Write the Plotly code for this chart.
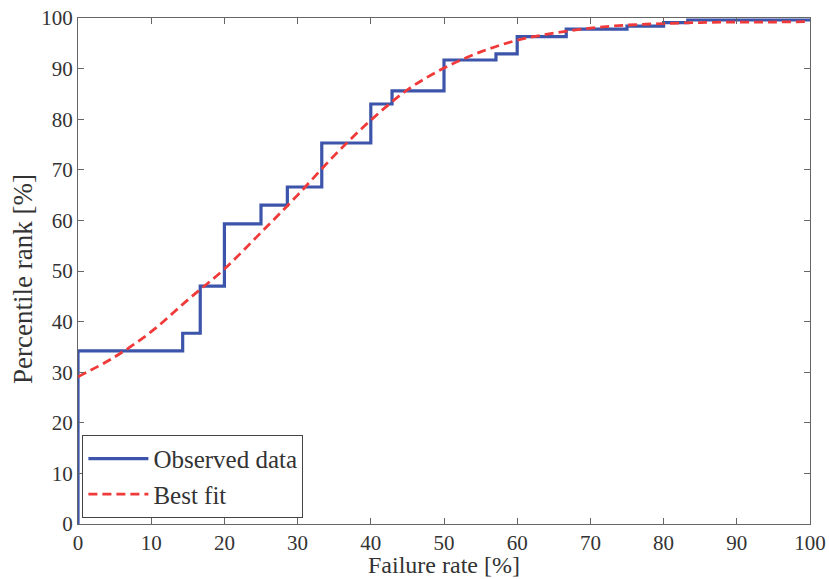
import plotly.graph_objects as go

obs_x = [0, 0, 14.3, 16.7, 20, 25, 28.6, 33.3, 40, 42.9, 50, 57.1, 60, 66.7, 75, 80, 83.3, 100]
obs_y = [0, 34.2, 37.7, 47.0, 59.3, 63.0, 66.6, 75.3, 83.0, 85.6, 91.7, 92.9, 96.3, 97.8, 98.4, 99.1, 99.6, 99.6]

fit_x = [0, 5, 10, 15, 20, 25, 30, 35, 40, 45, 50, 55, 60, 65, 70, 75, 80, 85, 90, 95, 100]
fit_y = [29.1, 33.0, 38.0, 44.3, 50.4, 57.6, 65.0, 72.8, 79.8, 85.8, 90.1, 93.3, 95.6, 97.0, 98.0, 98.6, 98.9, 99.1, 99.2, 99.2, 99.3]

ticks = [0, 10, 20, 30, 40, 50, 60, 70, 80, 90, 100]
x_title = "Failure rate [%]"
y_title = "Percentile rank [%]"

fig = go.Figure()
fig.add_trace(go.Scatter(x=obs_x, y=obs_y, mode="lines", line_shape="hv",
                         line=dict(color="#3c55aa", width=3.2), name="Observed data"))
fig.add_trace(go.Scatter(x=fit_x, y=fit_y, mode="lines", line_shape="spline",
                         line=dict(color="#f03a3a", width=2.8, dash="9px,5px"), name="Best fit"))

axis_common = dict(range=[0, 100], tickvals=ticks, ticks="inside", ticklen=6,
                   tickcolor="#666", showline=True, linecolor="#666", linewidth=1,
                   mirror="ticks", showgrid=False, zeroline=False, automargin=False,
                   tickfont=dict(family="Liberation Serif", size=21, color="#333"))

fig.update_xaxes(**axis_common)
fig.update_yaxes(**axis_common)

fig.add_annotation(text=x_title, xref="paper", yref="paper", x=0.5, y=0,
                   xanchor="center", yanchor="bottom", yshift=-55, showarrow=False,
                   borderpad=0,
                   font=dict(family="Liberation Serif", size=24, color="#333"))
fig.add_annotation(text=y_title, xref="paper", yref="paper", x=0, y=0.5,
                   xanchor="center", yanchor="middle", xshift=-55, yshift=-8,
                   textangle=-90, showarrow=False,
                   font=dict(family="Liberation Serif", size=27, color="#333"))

fig.update_layout(
    width=829, height=579,
    margin=dict(l=78, r=19, t=18, b=55),
    plot_bgcolor="white", paper_bgcolor="white",
    showlegend=True,
    legend=dict(x=0.006, y=0.012, xanchor="left", yanchor="bottom",
                bgcolor="white", bordercolor="#444", borderwidth=1,
                font=dict(family="Liberation Serif", size=25, color="#333"),
                itemwidth=60, tracegroupgap=0),
)

fig.write_html("out.html")
